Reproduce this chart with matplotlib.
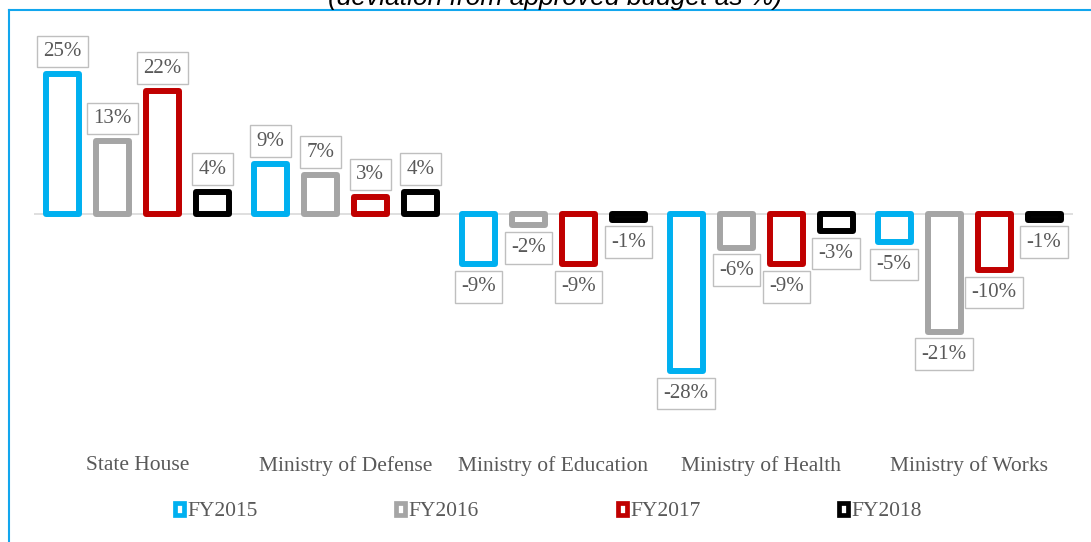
import matplotlib
matplotlib.use("Agg")
import matplotlib.pyplot as plt
import numpy as np
from matplotlib.patches import Patch
from matplotlib.lines import Line2D

categories = ["State House", "Ministry of Defense", "Ministry of Education",
              "Ministry of Health", "Ministry of Works"]
series_names = ["FY2015", "FY2016", "FY2017", "FY2018"]
fy2015 = [25, 9, -9, -28, -5]
fy2016 = [13, 7, -2, -6, -21]
fy2017 = [22, 3, -9, -9, -10]
fy2018 = [4, 4, -1, -3, -1]
colors = ["#00B0F0", "#A5A5A5", "#C00000", "#000000"]
title = "(deviation from approved budget as %)"

series = [fy2015, fy2016, fy2017, fy2018]

W, H = 1091, 542
fig = plt.figure(figsize=(W / 100, H / 100), dpi=100)
fig.patch.set_facecolor("white")

# axes placement (pixel based)
ax_left, ax_right, ax_top, ax_bot = 33.5, 1073, 30, 440
ax = fig.add_axes([ax_left / W, 1 - ax_bot / H, (ax_right - ax_left) / W, (ax_bot - ax_top) / H])
zero_px = 214
scale = 5.6
ax.set_ylim(-(ax_bot - zero_px) / scale, (zero_px - ax_top) / scale)
ax.set_xlim(-0.5, len(categories) - 0.5)

x = np.arange(len(categories))
pitch = 0.2405
width = 0.159
label_font = "Liberation Serif"
gray_txt = "#595959"

ax.axhline(0, color="#D9D9D9", lw=1.2, zorder=1)

for i, (vals, c) in enumerate(zip(series, colors)):
    offs = (i - 1.5) * pitch
    bars = ax.bar(x + offs, vals, width=width, facecolor="white", edgecolor=c,
                  linewidth=4.3, zorder=3)
    for p in bars:
        p.set_joinstyle("round")
    for xi, v in zip(x + offs, vals):
        dy = 9.4 if v >= 0 else -9.4
        ax.annotate(f"{v}%", (xi, v), xytext=(0, dy), textcoords="offset points",
                    ha="center", va="bottom" if v >= 0 else "top",
                    fontsize=15, family=label_font, color=gray_txt, zorder=5,
                    bbox=dict(boxstyle="square,pad=0.3", facecolor="white",
                              edgecolor="#BFBFBF", linewidth=1.0))

ax.set_xticks(x, categories, fontsize=15.5, family=label_font, color=gray_txt)
ax.tick_params(axis="x", length=0, pad=11.5)
ax.set_yticks([])
for s in ax.spines.values():
    s.set_visible(False)

handles = [Patch(facecolor="white", edgecolor=c, linewidth=3.4, joinstyle="round", label=n)
           for n, c in zip(series_names, colors)]
leg = fig.legend(handles=handles, loc="center", bbox_to_anchor=(0.5027, 1 - 512 / H),
                 ncol=4, frameon=False, handlelength=0.42, handleheight=0.45,
                 handletextpad=0.15, columnspacing=6.45, borderpad=0,
                 prop={"family": label_font, "size": 15.5})
for t in leg.get_texts():
    t.set_color(gray_txt)

fig.text(555 / W, 1 - 5 / H, title, ha="center", va="baseline", fontsize=19,
         style="italic", family="Liberation Sans", color="#000000")

# chart border (light blue)
bc = "#12A6EE"
fig.add_artist(Line2D([8.5 / W, 8.5 / W], [0, 1 - 9.5 / H], color=bc, lw=1.5,
                      transform=fig.transFigure))
fig.add_artist(Line2D([8.5 / W, 1], [1 - 9.5 / H, 1 - 9.5 / H], color=bc, lw=1.5,
                      transform=fig.transFigure))

fig.savefig("out.png", dpi=100)
